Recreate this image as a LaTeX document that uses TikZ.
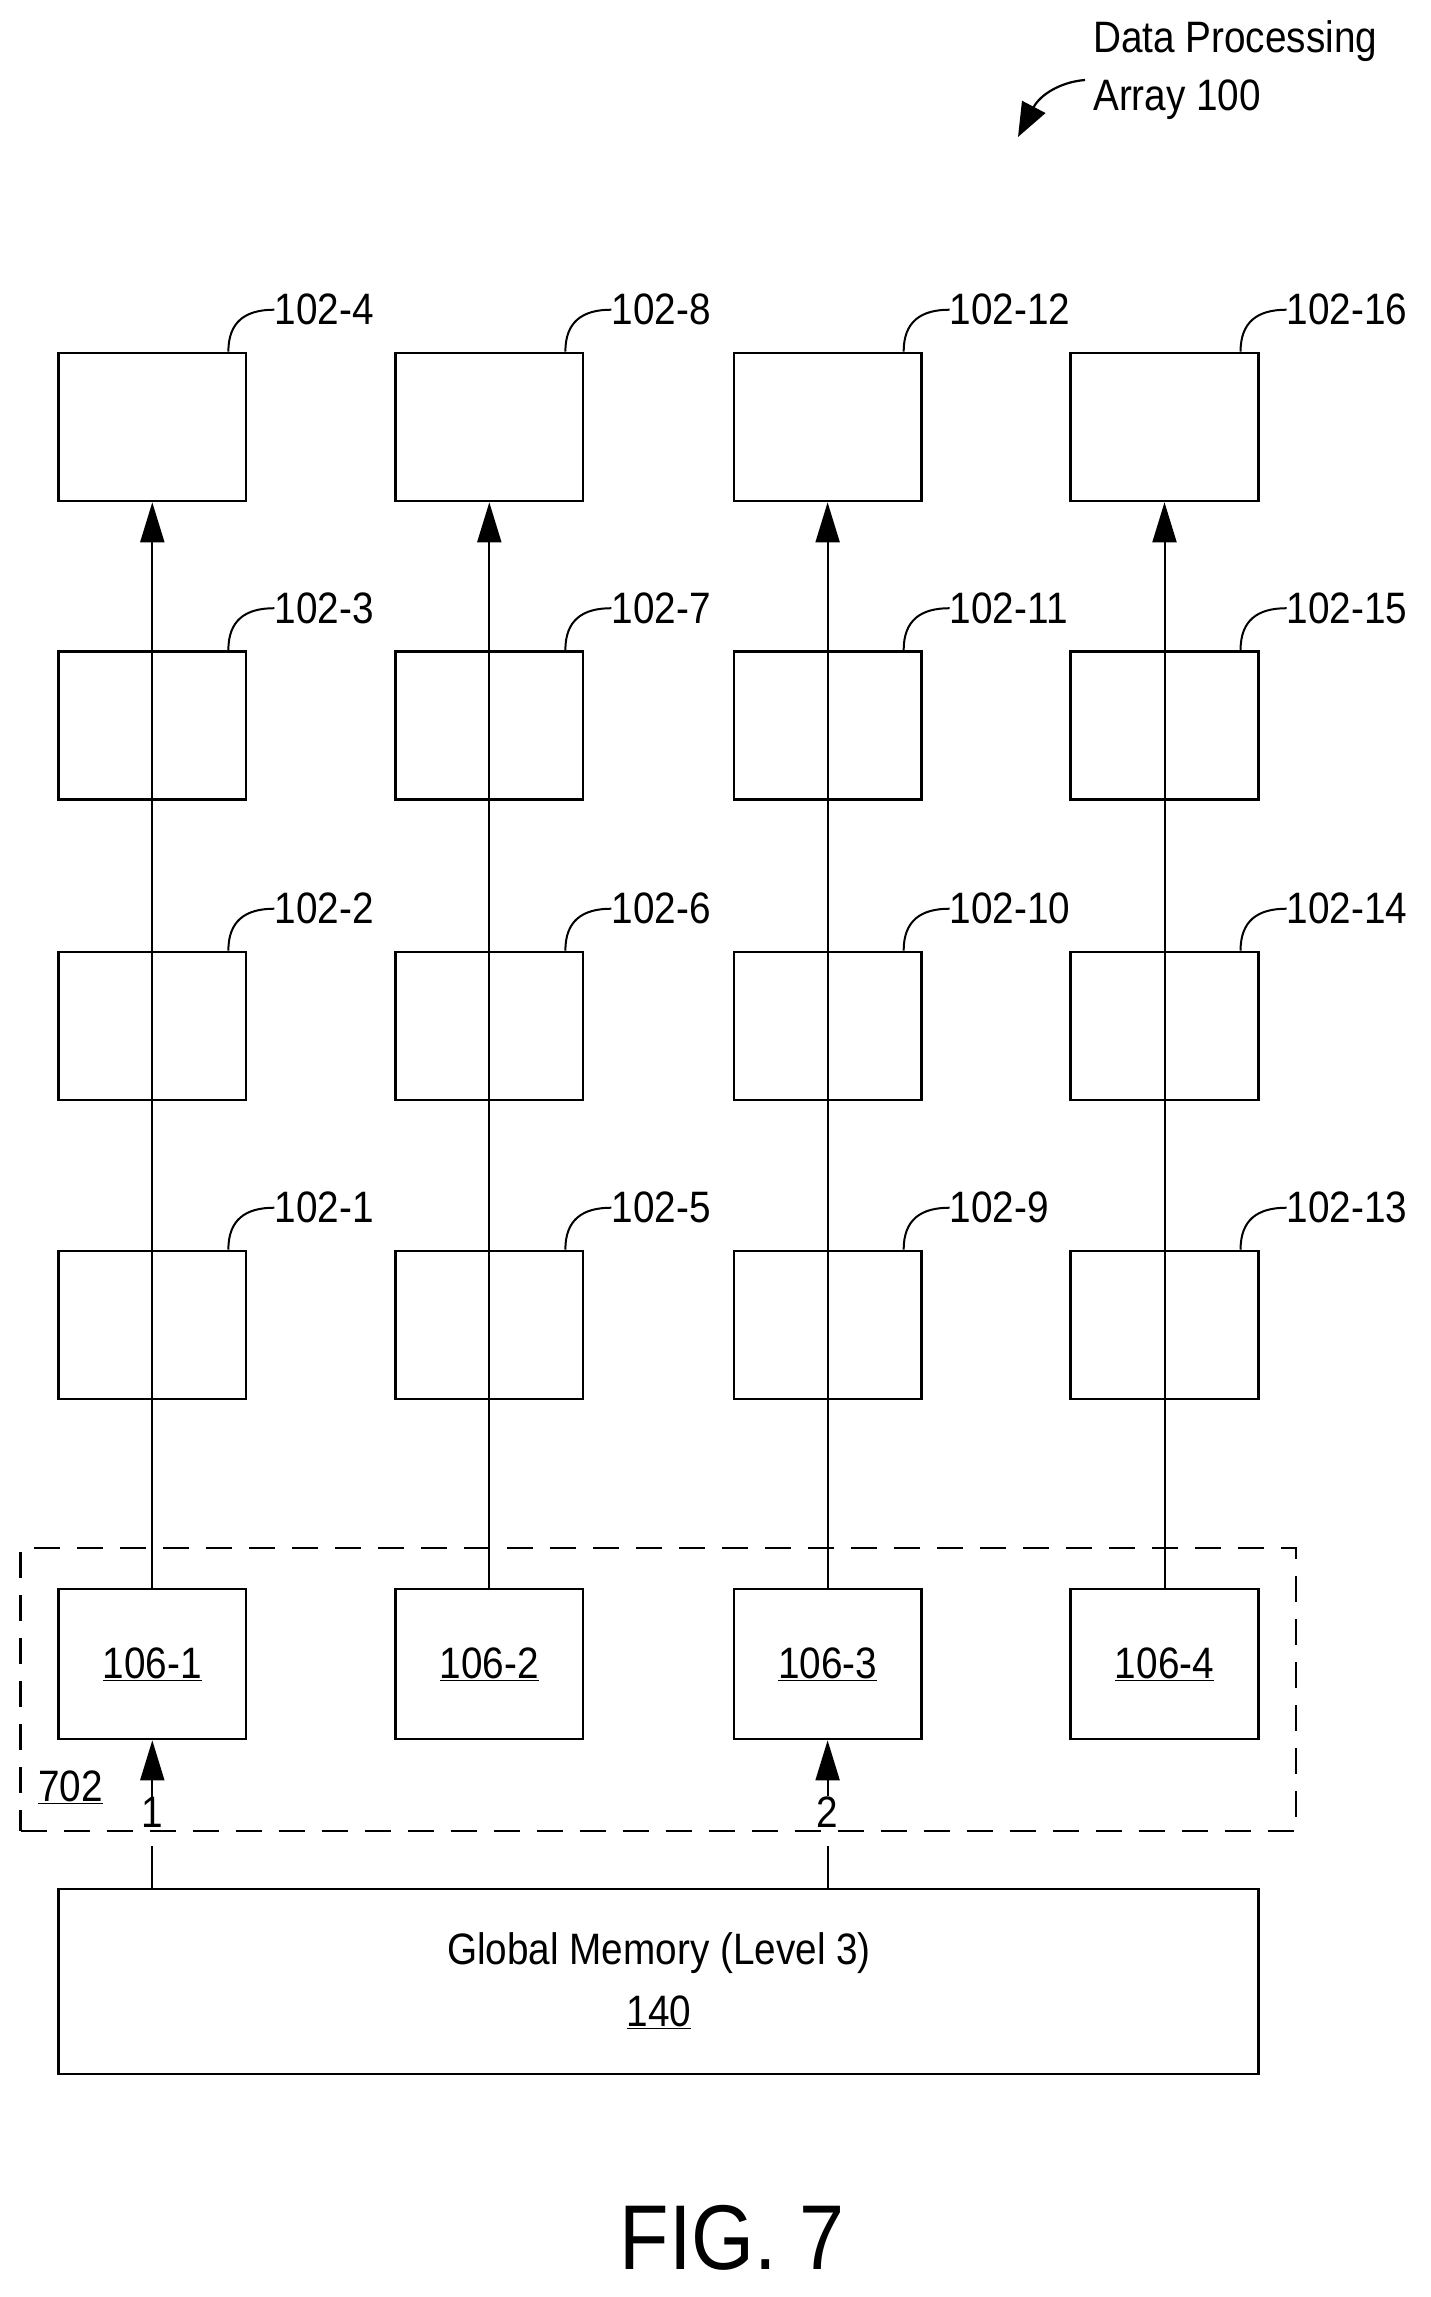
\documentclass[tikz,border=0pt]{standalone}
\usepackage{fontspec}
\setmainfont{Liberation Sans}[FakeStretch=0.88]
\usetikzlibrary{calc,arrows.meta}
\begin{document}
\begin{tikzpicture}[x=1pt,y=-1pt,
  box/.style={draw,line width=2.6pt,minimum width=187.5pt,minimum height=148pt,inner sep=0pt},
  lbl/.style={font=\fontsize{44}{50}\selectfont,anchor=west,inner sep=0pt},
  txt/.style={font=\fontsize{44}{50}\selectfont,inner sep=0pt},
  lead/.style={line width=2pt},
  conn/.style={line width=2pt,-{Triangle[length=40pt,width=24pt]}},
  plain/.style={line width=2pt}]
\useasboundingbox (0,0) rectangle (1431,2297);
% grid of 102 boxes
\foreach \c/\x in {0/152.3,1/489.3,2/827.6,3/1164.5}{
  \foreach \r/\y in {1/1325,2/1026,3/725.5,4/427}{
    \pgfmathtruncatemacro{\n}{\c*4+\r}
    \node[box] (p\n) at (\x,\y) {};
    \node[lbl] (l\n) at ($(p\n.north east)+(27,-42)$) {102-\n};
    \draw[lead] ($(p\n.north east)+(-19,0)$) .. controls ($(p\n.north east)+(-19,-30)$) and ($(p\n.north east)+(-2,-42)$) .. (l\n.west);
  }
}
% 106 boxes
\foreach \i/\x in {1/152.3,2/489.3,3/827.6,4/1164.5}{
  \node[box,minimum height=150pt,font=\fontsize{44}{50}\selectfont] (m\i) at (\x,1664) {\underline{106-\i}};
}
\draw[conn] (m1.north) -- (p4.south);
\draw[conn] (m2.north) -- (p8.south);
\draw[conn] (m3.north) -- (p12.south);
\draw[conn] (m4.north) -- (p16.south);
% dashed group
\node[draw,dash pattern=on 26pt off 17pt,line width=2.4pt,minimum width=1275.5pt,minimum height=283pt,inner sep=0pt] (g702) at (658.25,1689.5) {};
\node[txt,anchor=west] (t702) at (38,1787) {\underline{702}};
% global memory
\node[draw,line width=2.6pt,minimum width=1199.5pt,minimum height=185pt,inner sep=0pt] (gm) at (658.5,1981.5) {};
\node[txt] (gmt) at (659,1953) {Global Memory (Level 3)};
\node[txt] (gmn) at (659,2012) {\underline{140}};
% inputs 1, 2
\node[txt] (n1) at (152.3,1812) {1};
\node[txt] (n2) at (827.6,1812) {2};
\coordinate (c1) at (152.3,1846);
\coordinate (c2) at (827.6,1846);
\draw[plain] (gm.north -| c1) -- (c1);
\draw[plain] (gm.north -| c2) -- (c2);
\draw[conn] (n1.north) -- (m1.south);
\draw[conn] (n2.north) -- (m3.south);
% title
\node[txt,anchor=west] (tt1) at (1093,41) {Data Processing};
\node[txt,anchor=west] (tt2) at (1093,100) {Array 100};
\coordinate (arrtip) at (1018,137);
\draw[line width=2.2pt,-{Triangle[length=34pt,width=26pt]}] (1085,80) .. controls (1060,82) and (1040,95) .. (arrtip);
% caption
\node[font=\fontsize{92}{100}\selectfont,inner sep=0pt] (fig) at (732,2238) {FIG. 7};
\end{tikzpicture}
\end{document}
